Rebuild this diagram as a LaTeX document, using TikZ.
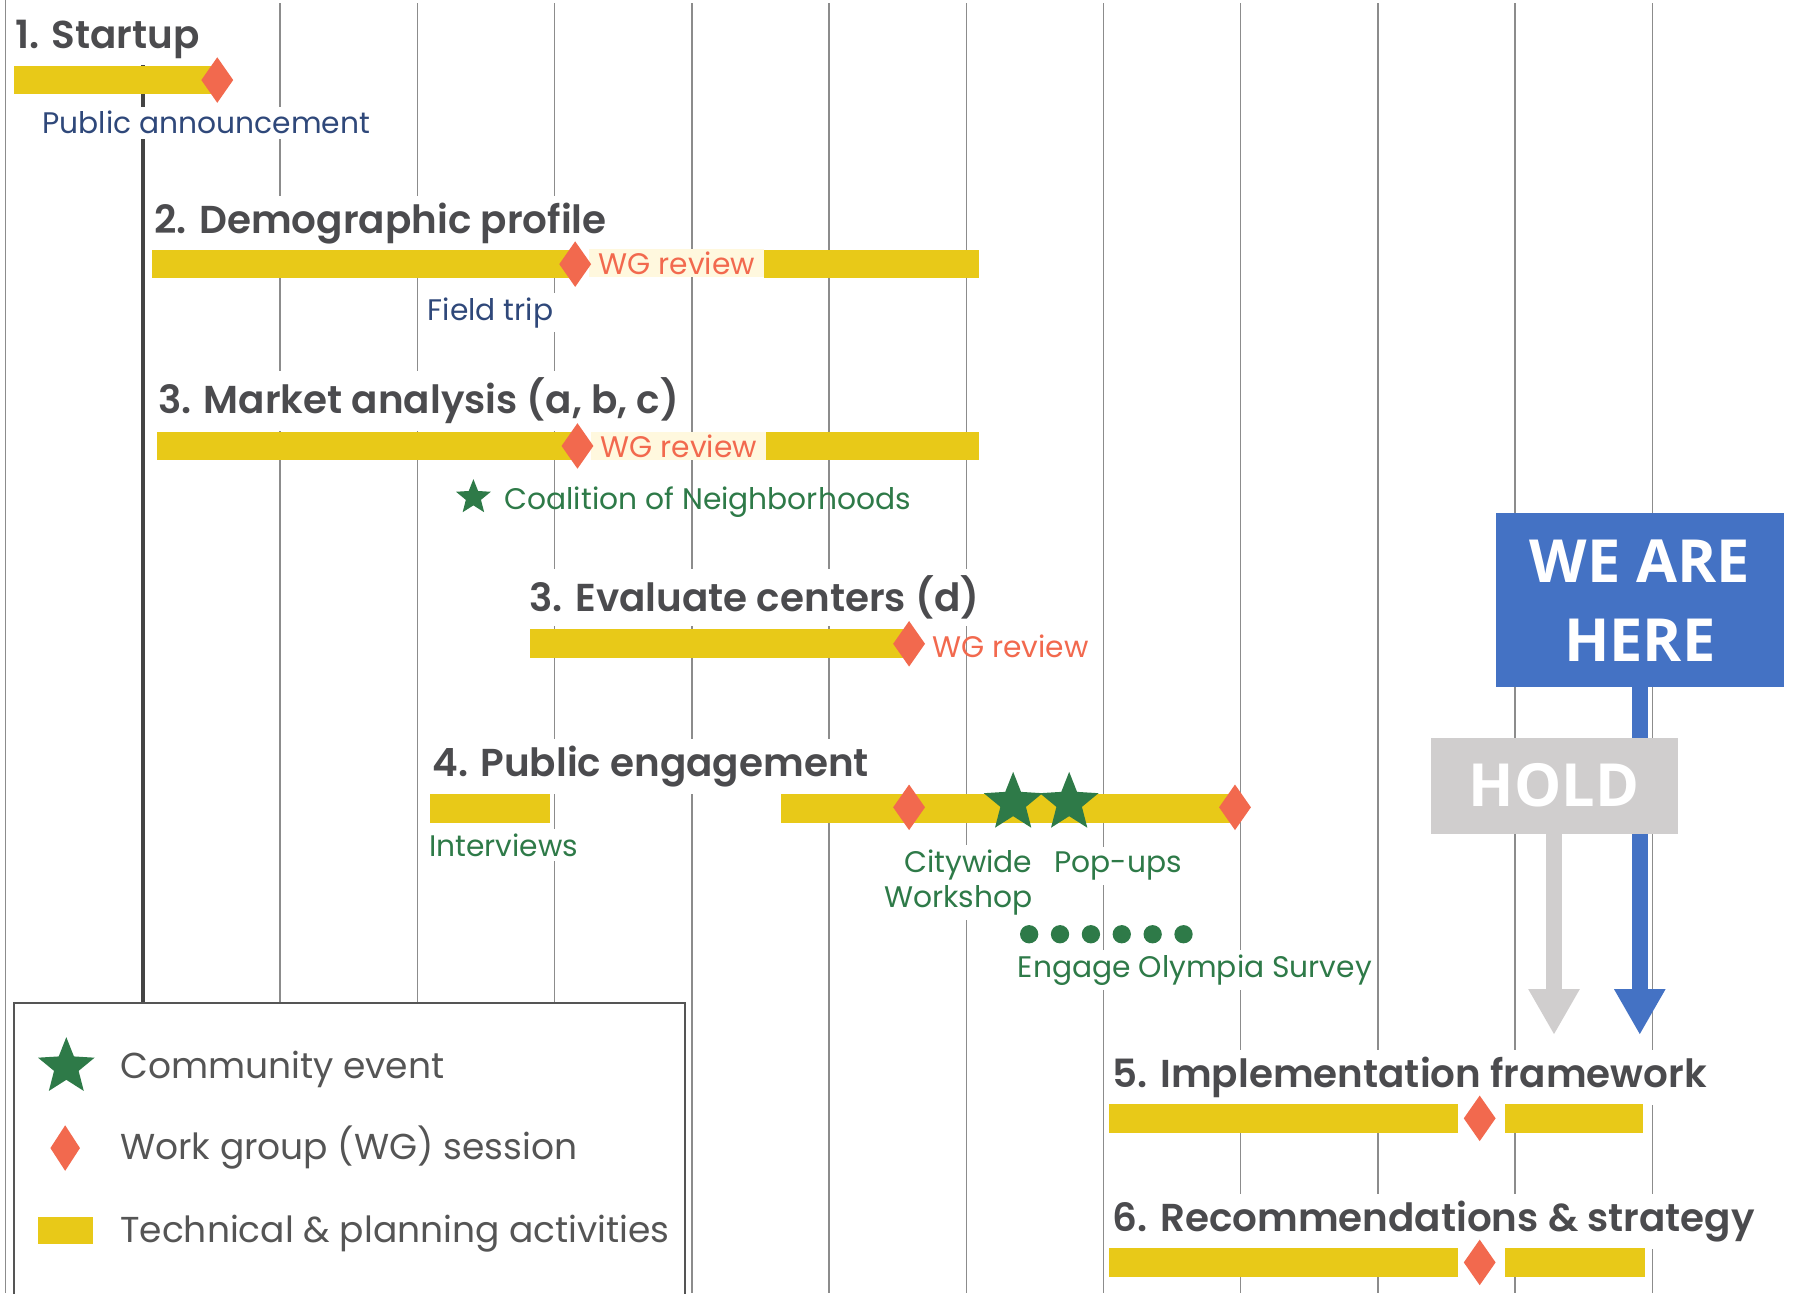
\documentclass[tikz,border=0pt]{standalone}
\usepackage{fontspec}
\setmainfont{Poppins}
\IfFontExistsTF{Poppins SemiBold}{\newfontfamily\popsb{Poppins SemiBold}}{\def\popsb{\bfseries}}
\IfFontExistsTF{Open Sans SemiBold}{\newfontfamily\osb{Open Sans SemiBold}}{\newfontfamily\osbb{Open Sans}\def\osb{\osbb\bfseries}}
\usetikzlibrary{shapes.geometric,arrows.meta}
\definecolor{ybar}{RGB}{232,201,24}
\definecolor{wgred}{RGB}{242,105,78}
\definecolor{evgreen}{RGB}{46,122,72}
\definecolor{navy}{RGB}{47,72,122}
\definecolor{titlegray}{RGB}{75,75,78}
\definecolor{leggray}{RGB}{85,85,85}
\definecolor{gridgray}{RGB}{140,140,140}
\definecolor{darkline}{RGB}{68,68,68}
\definecolor{hereblue}{RGB}{68,114,196}
\definecolor{holdgray}{RGB}{208,206,206}
\definecolor{cream}{RGB}{255,248,222}
\begin{document}
\begin{tikzpicture}[x=1pt,y=-1pt,
  gridln/.style={draw=gridgray, line width=1.3pt},
  bar/.style={rectangle, fill=ybar, draw=none, minimum height=25pt, inner sep=0pt, anchor=west},
  wg/.style={diamond, fill=wgred, draw=none, minimum width=28pt, minimum height=40pt, inner sep=0pt},
  ev/.style={star, star points=5, star point ratio=2.3, fill=evgreen, draw=none, inner sep=0pt, minimum size=#1},
  ttl/.style={anchor=base west, text=titlegray, font=\fontsize{34}{40}\selectfont\popsb, fill=white, inner sep=6pt},
  lbl/.style={anchor=base west, font=\fontsize{26}{31}\selectfont, inner sep=4pt},
  wglbl/.style={rectangle, anchor=west, text=wgred, font=\fontsize{26}{31}\selectfont, minimum height=25pt, inner sep=0pt},
  leg/.style={anchor=base west, text=leggray, font=\fontsize{31.5}{38}\selectfont, inner sep=0pt},
  dot/.style={circle, fill=evgreen, draw=none, minimum size=16pt, inner sep=0pt},
  bigbox/.style={rectangle, text=white, inner sep=0pt, align=center},
]
\fill[white] (0,0) rectangle (1568,1131);
\useasboundingbox (0,0) rectangle (1568,1131);

% grid
\draw[gridln] (5,0) -- (5,1131);
\foreach \gx in {245,365,...,1445} \draw[gridln] (\gx,3) -- (\gx,1131);
\draw[draw=darkline, line width=3.5pt] (125,47) -- (125,876);

% legend
\node[rectangle, draw=leggray, line width=2pt, fill=white, minimum width=587pt, minimum height=262pt, anchor=north west, inner sep=0pt] (legend) at (11,876) {};
\node[ev=52pt] (lstar) at (58,933) {};
\node[leg] (ltxt1) at (105,943) {Community event};
\node[wg, minimum width=26pt] (ldia) at (57,1004) {};
\node[leg] (ltxt2) at (105,1014) {Work group (WG) session};
\node[rectangle, fill=ybar, minimum width=48pt, minimum height=24pt, inner sep=0pt] (lbar) at (57,1076) {};
\node[leg] (ltxt3) at (105,1087) {Technical \& planning activities};

% 1. Startup
\node[ttl] (t1) at (7,42) {1. Startup};
\node[bar, minimum width=178pt] (b1) at (12,70) {};
\node[wg] (d1) at (190,70) {};
\node[lbl, text=navy, fill=white] (pa) at (33,117) {Public announcement};

% 2. Demographic profile
\node[ttl] (t2) at (129,204) {2. Demographic profile};
\node[bar, minimum width=370pt] (b2a) at (133,231) {};
\node[wglbl, fill=cream, minimum width=153pt] (w2) at (515,230) {WG review};
\node[bar, minimum width=188pt] (b2b) at (668,231) {};
\node[wg] (d2) at (503,231) {};
\node[lbl, text=navy, fill=white] (ft) at (370,280) {Field trip};

% 3. Market analysis
\node[ttl] (t3) at (132,362) {3. Market analysis (a, b, c)};
\node[bar, minimum width=368pt] (b3a) at (137,390) {};
\node[wglbl, fill=cream, minimum width=153pt] (w3) at (517,390) {WG review};
\node[bar, minimum width=186pt] (b3b) at (670,390) {};
\node[wg] (d3) at (505,390) {};
\node[ev=32pt] (s3) at (414,435) {};
\node[lbl, text=evgreen, inner sep=0pt] (coal) at (441,446) {Coalition of Neighborhoods};

% 3. Evaluate centers
\node[ttl] (t3d) at (457,535) {3. Evaluate centers (d)};
\node[bar, minimum width=332pt] (b3d) at (463,563) {};
\node[wg] (d3d) at (795,563) {};
\node[wglbl, anchor=west] (w3d) at (815,565) {WG review};

% 4. Public engagement
\node[ttl] (t4) at (372,679) {4. Public engagement};
\node[bar, minimum width=105pt] (b4a) at (376,707) {};
\node[bar, minimum width=397pt] (b4b) at (683,707) {};
\node[wg] (d4a) at (795,706) {};
\node[wg] (d4b) at (1080,706) {};
\node[ev=54pt] (s4a) at (886,702) {};
\node[ev=54pt] (s4b) at (935,702) {};
\node[lbl, text=evgreen, fill=white] (iv) at (371,749) {Interviews};
\node[rectangle, anchor=east, text=evgreen, font=\fontsize{26}{31}\selectfont, align=right, fill=white, inner sep=4pt] (cw) at (907,772) {Citywide\\Workshop};
\node[lbl, text=evgreen, fill=white] (pu) at (918,763) {Pop-ups};
\foreach \k in {0,...,5} \node[dot] (dot\k) at (900+27*\k,817) {};
\node[lbl, text=evgreen, fill=white] (eos) at (886,855) {Engage Olympia Survey};

% 5. Implementation framework
\node[ttl] (t5) at (967,951) {5. Implementation framework};
\node[bar, minimum width=305pt] (b5a) at (970,978) {};
\node[wg] (d5) at (1294,978) {};
\node[bar, minimum width=121pt] (b5b) at (1316,978) {};

% 6. Recommendations & strategy
\node[ttl] (t6) at (967,1077) {6. Recommendations \& strategy};
\node[bar, minimum width=305pt] (b6a) at (970,1104) {};
\node[wg] (d6) at (1294,1104) {};
\node[bar, minimum width=122pt] (b6b) at (1316,1104) {};

% WE ARE HERE / HOLD
\node[bigbox, fill=hereblue, minimum width=252pt, minimum height=152pt, font=\fontsize{52}{69}\selectfont\osb] (here) at (1434,525) {WE ARE\\HERE};
\coordinate (hereTip) at (1434,905);
\draw[hereblue, line width=14pt, -{Triangle[length=40pt 0 0, width=42pt 0 0]}] (here.south) -- (hereTip);
\node[bigbox, fill=holdgray, minimum width=216pt, minimum height=84pt, font=\fontsize{52}{60}\selectfont\osb] (hold) at (1359,687) {HOLD};
\coordinate (holdTip) at (1359,905);
\draw[holdgray, line width=14pt, -{Triangle[length=40pt 0 0, width=42pt 0 0]}] (hold.south) -- (holdTip);
\end{tikzpicture}
\end{document}
